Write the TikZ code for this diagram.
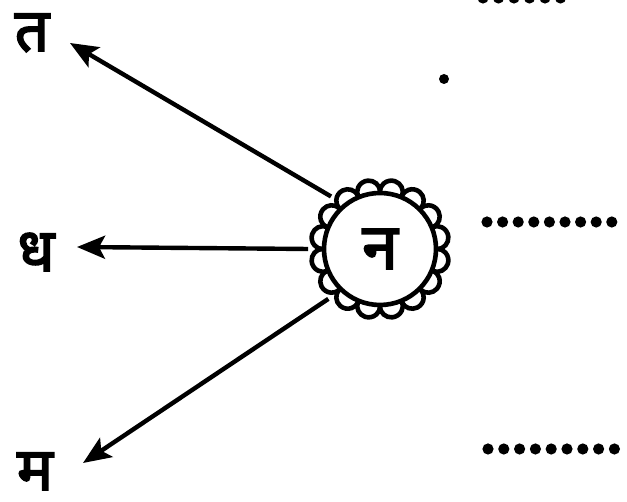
\documentclass[tikz,border=0pt]{standalone}
\usepackage{fontspec}
\newfontfamily\devafont[Script=Devanagari,FakeBold=3]{Noto Sans}
\usetikzlibrary{arrows.meta,calc}
\tikzset{>={Stealth[length=28pt,width=23pt,inset=6pt]},
  every node/.style={font=\devafont\fontsize{60}{64}\selectfont,anchor=base,inner sep=0pt},
  pointer/.style={->,line width=4.4pt},
  hub/.style={circle,minimum size=139pt,inner sep=0pt,anchor=center},
  bead/.style={fill=black}}
\begin{document}
\begin{tikzpicture}[x=1pt,y=1pt,line width=4.6pt]
\useasboundingbox[fill=white](0,0)rectangle(627,502);
\node[hub,font=\devafont\fontsize{64}{68}\selectfont](na)at(380,253){न};
\draw(na.center)circle(56);
\foreach \a in {11.25,33.75,...,360}{\draw([shift={({\a-97}:11.5)}]$(na.center)+(\a:58)$)arc[start angle=\a-97,end angle=\a+97,radius=11.5];}
\node(ta)at(32,451){त};\node(dha)at(36,231){ध};\node(ma)at(35,12){म};
\coordinate(tipta)at(70,459);\coordinate(tipdha)at(77,255);\coordinate(tipma)at(83,39);
\draw[pointer](na.133)--(tipta);\draw[pointer](na.180)--(tipdha);\draw[pointer](na.224)--(tipma);
\foreach \i in {0,...,8}{\fill[bead](487+15.6*\i,280)circle(5.6);\fill[bead](488+15.8*\i,53)circle(5.6);}
\foreach \i in {0,...,5}{\fill[bead](483+15.5*\i,504)circle(5.6);}
\fill[bead](444,423)circle(5);
\end{tikzpicture}
\end{document}
